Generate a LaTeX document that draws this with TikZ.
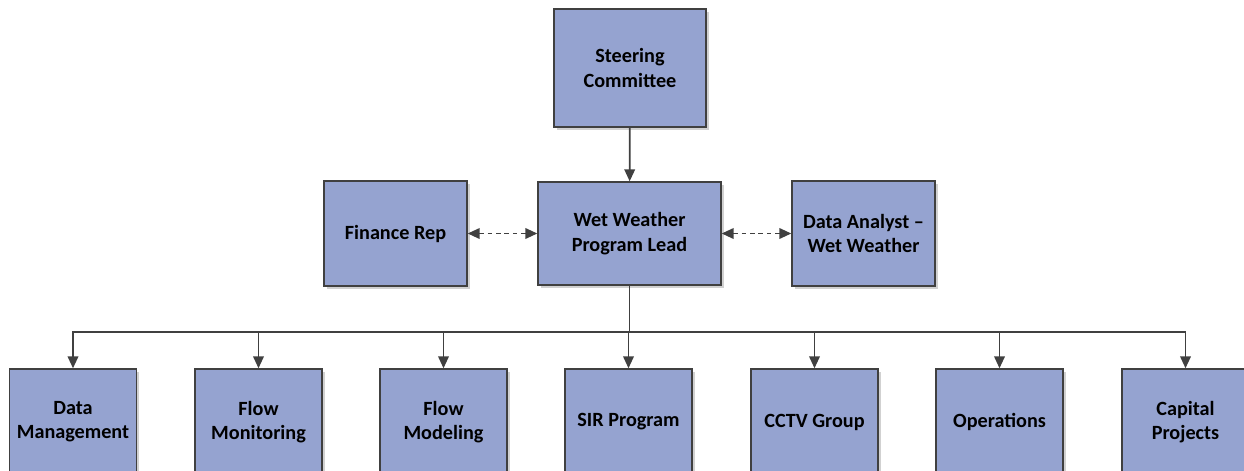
\documentclass[tikz,border=0pt]{standalone}
\usepackage{fontspec}
\setmainfont{Carlito}
\usetikzlibrary{arrows.meta,shadows}
\definecolor{boxblue}{HTML}{95A3D0}
\definecolor{linegray}{HTML}{404040}
\tikzset{
    unit/.style={draw=linegray, line width=0.8pt, fill=boxblue, align=center,
        inner sep=0pt, text=black, font=\bfseries\fontsize{11.5}{13.8}\selectfont,
        drop shadow={shadow xshift=1.5pt, shadow yshift=-1.5pt, fill=black, opacity=0.18}},
    link/.style={draw=linegray, line width=1.05pt, -{Triangle[length=6.8pt,width=6pt]}},
    dual/.style={draw=linegray, line width=1.05pt, dash pattern=on 2.6pt off 2.2pt,
        {Triangle[length=6.8pt,width=6pt]}-{Triangle[length=6.8pt,width=6pt]}}
}
\begin{document}
\begin{tikzpicture}[x=0.02cm, y=-0.02cm]
    \useasboundingbox (0,0) rectangle (1244,470);

    % top row
    \node[unit, minimum width=3.04cm, minimum height=2.36cm] (steer) at (630,68) {Steering\\Committee};
    \node[unit, minimum width=3.66cm, minimum height=2.06cm] (lead) at (629.5,233.5) {Wet Weather\\Program Lead};
    \node[unit, minimum width=2.86cm, minimum height=2.1cm] (finance) at (395.5,233.5) {Finance Rep};
    \node[unit, minimum width=2.86cm, minimum height=2.1cm] (analyst) at (863.5,233.5) {Data Analyst --\\Wet Weather};

    \draw[link] (steer) -- (lead);
    \draw[dual] (finance) -- (lead);
    \draw[dual] (lead) -- (analyst);

    % bus to the groups
    \coordinate (bus) at (629.5,332);
    \draw[draw=linegray, line width=1.05pt] (lead) -- (bus);

    \foreach \x/\nm/\txt in {73/datamgmt/Data\\Management, 258.5/flowmon/Flow\\Monitoring,
        443.5/flowmod/Flow\\Modeling, 628.5/sir/SIR Program, 814.5/cctv/CCTV Group,
        999.5/ops/Operations, 1185.5/capital/Capital\\Projects}{
        \node[unit, minimum width=2.54cm, minimum height=2.12cm] (\nm) at (\x,422) {\txt};
        \draw[link] (bus) -| (\nm.north);
    }
\end{tikzpicture}
\end{document}
